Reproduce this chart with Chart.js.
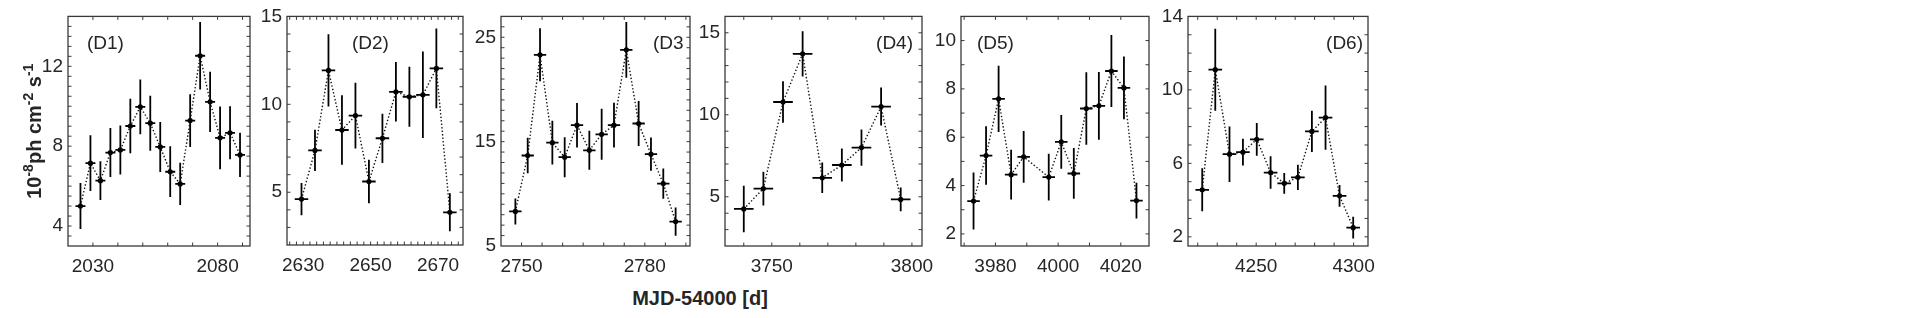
<!DOCTYPE html>
<html>
<head>
<meta charset="utf-8">
<script src="https://cdn.jsdelivr.net/npm/chart.js@4.4.1/dist/chart.umd.min.js"></script>
<style>
body { margin: 0; background: #fff; width: 1926px; height: 318px; position: relative; overflow: hidden; font-family: "Liberation Sans", Arial, sans-serif; }
.pan { position: absolute; top: 0; height: 280px; }
#xtitle { position: absolute; left: 700px; top: 287px; transform: translateX(-50%); font-weight: bold; font-size: 20px; line-height: 22px; color: #262626; white-space: nowrap; }
</style>
</head>
<body>
<div id="xtitle">MJD-54000 [d]</div>
<script>
// Dados de cada painel (MJD-54000, fluxo, erro)
const d1X = [2025, 2029, 2033, 2037, 2041, 2045, 2049, 2053, 2057, 2061, 2065, 2069, 2073, 2077, 2081, 2085, 2089];
const d1Y = [5.0, 7.15, 6.27, 7.68, 7.81, 9.01, 9.97, 9.15, 7.96, 6.72, 6.11, 9.28, 12.53, 10.22, 8.42, 8.67, 7.56];
const d1Err = [1.15, 1.4, 0.97, 1.23, 1.23, 1.37, 1.37, 1.38, 1.25, 1.27, 1.06, 1.32, 1.69, 1.51, 1.57, 1.33, 1.11];
const d1XTicks = [2030, 2080];
const d1YTicks = [4, 8, 12];

const d2X = [2629.5, 2633.5, 2637.5, 2641.5, 2645.5, 2649.5, 2653.5, 2657.5, 2661.5, 2665.5, 2669.5, 2673.5];
const d2Y = [4.61, 7.38, 11.93, 8.54, 9.36, 5.61, 8.07, 10.71, 10.43, 10.54, 12.04, 3.86];
const d2Err = [0.92, 1.17, 2.06, 1.97, 1.87, 1.24, 1.4, 1.69, 1.7, 2.46, 2.27, 1.08];
const d2XTicks = [2630, 2650, 2670];
const d2YTicks = [5, 10, 15];

const d3X = [2748.5, 2751.5, 2754.5, 2757.5, 2760.5, 2763.5, 2766.5, 2769.5, 2772.5, 2775.5, 2778.5, 2781.5, 2784.5, 2787.5];
const d3Y = [8.31, 13.67, 23.32, 14.9, 13.51, 16.58, 14.17, 15.7, 16.58, 23.8, 16.74, 13.8, 10.98, 7.34];
const d3Err = [1.25, 1.7, 2.54, 2.1, 1.92, 2.13, 1.87, 2.44, 2.14, 2.67, 2.16, 1.59, 1.45, 1.35];
const d3XTicks = [2750, 2780];
const d3YTicks = [5, 15, 25];

const d4X = [3740, 3747, 3754, 3761, 3768, 3775, 3782, 3789, 3796];
const d4Y = [4.26, 5.5, 10.78, 13.72, 6.16, 6.94, 8.0, 10.5, 4.84];
const d4Err = [1.42, 1.03, 1.27, 1.38, 0.93, 1.01, 1.1, 1.16, 0.72];
const d4XTicks = [3750, 3800];
const d4YTicks = [5, 10, 15];

const d5X = [3973, 3977, 3981, 3985, 3989, 3997, 4001, 4005, 4009, 4013, 4017, 4021, 4025];
const d5Y = [3.36, 5.24, 7.59, 4.45, 5.19, 4.35, 5.81, 4.5, 7.19, 7.3, 8.74, 8.04, 3.38];
const d5Err = [1.18, 1.21, 1.37, 1.03, 1.07, 0.97, 1.11, 1.05, 1.5, 1.4, 1.49, 1.3, 0.74];
const d5XTicks = [3980, 4000, 4020];
const d5YTicks = [2, 4, 6, 8, 10];

const d6X = [4222.3, 4229, 4236.3, 4243.2, 4250.3, 4257.4, 4264.4, 4271.4, 4278.6, 4285.6, 4292.8, 4299.8];
const d6Y = [4.56, 11.1, 6.5, 6.61, 7.31, 5.5, 4.91, 5.24, 7.74, 8.49, 4.23, 2.5];
const d6Err = [1.17, 2.23, 1.51, 0.73, 0.89, 0.88, 0.56, 0.69, 1.12, 1.75, 0.59, 0.59];
const d6XTicks = [4250, 4300];
const d6YTicks = [2, 6, 10, 14];

// meia largura do bin em dias
const binHalf = [2, 2, 1.5, 3.5, 2, 3.5];

const H = 280;
const paineis = [
    { label: '(D1)', x: d1X, y: d1Y, err: d1Err, xt: d1XTicks, yt: d1YTicks, box: [68, 14, 250, 246], xr: [2020, 2093, 10], yr: [3, 14.5, 0.5], align: 'left', dx: 19 },
    { label: '(D2)', x: d2X, y: d2Y, err: d2Err, xt: d2XTicks, yt: d2YTicks, box: [287, 13, 463, 245], xr: [2625.2, 2677.4, 2], yr: [2, 15, 1], align: 'left', dx: 65 },
    { label: '(D3', x: d3X, y: d3Y, err: d3Err, xt: d3XTicks, yt: d3YTicks, box: [501, 14, 690, 246], xr: [2745, 2791, 5], yr: [5, 27, 1], align: 'left', dx: 152 },
    { label: '(D4)', x: d4X, y: d4Y, err: d4Err, xt: d4XTicks, yt: d4YTicks, box: [725, 14, 922, 246], xr: [3733.3, 3803.6, 10], yr: [2, 16, 1], align: 'right', dx: 9 },
    { label: '(D5)', x: d5X, y: d5Y, err: d5Err, xt: d5XTicks, yt: d5YTicks, box: [961, 14, 1149, 246], xr: [3969, 4029, 10], yr: [1.5, 11, 1], align: 'left', dx: 16 },
    { label: '(D6)', x: d6X, y: d6Y, err: d6Err, xt: d6XTicks, yt: d6YTicks, box: [1188, 14, 1368, 246], xr: [4215, 4307.4, 10], yr: [1.5, 14, 1], align: 'right', dx: 5 }
];

const fonte = '"Liberation Sans", Arial, sans-serif';
const corTexto = '#262626';

// título do eixo y com expoentes: [texto, expoente?]
const tituloY = [['10', false], ['-8', true], ['ph cm', false], ['-2', true], [' s', false], ['-1', true]];

// Caixa com ticks para dentro, rótulo do painel e título do eixo y
const moldura = {
    id: 'moldura',
    afterDatasetsDraw(chart, args, opts) {
        const { ctx, chartArea: a, scales } = chart;
        const tl = 3.5;
        ctx.save();
        ctx.strokeStyle = '#3a3a3a';
        ctx.lineWidth = 1;
        ctx.beginPath();
        scales.x.ticks.forEach(t => {
            const p = scales.x.getPixelForValue(t.value);
            if (p <= a.left + 1 || p >= a.right - 1) return;
            ctx.moveTo(p, a.bottom); ctx.lineTo(p, a.bottom - tl);
            ctx.moveTo(p, a.top); ctx.lineTo(p, a.top + tl);
        });
        scales.y.ticks.forEach(t => {
            const p = scales.y.getPixelForValue(t.value);
            if (p <= a.top + 1 || p >= a.bottom - 1) return;
            ctx.moveTo(a.left, p); ctx.lineTo(a.left + tl, p);
            ctx.moveTo(a.right, p); ctx.lineTo(a.right - tl, p);
        });
        ctx.stroke();
        ctx.lineWidth = 1.3;
        ctx.strokeRect(a.left, a.top, a.right - a.left, a.bottom - a.top);
        ctx.fillStyle = corTexto;
        ctx.font = '19px ' + fonte;
        ctx.textBaseline = 'middle';
        ctx.textAlign = opts.align;
        const tx = opts.align === 'left' ? a.left + opts.dx : a.right - opts.dx;
        ctx.fillText(opts.text, tx, a.top + 27);

        if (opts.ytitle) {
            const big = 'bold 20px ' + fonte, small = 'bold 14px ' + fonte;
            let total = 0;
            tituloY.forEach(([s, sup]) => { ctx.font = sup ? small : big; total += ctx.measureText(s).width; });
            ctx.translate(41, (a.top + a.bottom) / 2 + total / 2);
            ctx.rotate(-Math.PI / 2);
            ctx.textAlign = 'left';
            ctx.textBaseline = 'alphabetic';
            let pos = 0;
            tituloY.forEach(([s, sup]) => {
                ctx.font = sup ? small : big;
                ctx.fillText(s, pos, sup ? -8 : 0);
                pos += ctx.measureText(s).width;
            });
        }
        ctx.restore();
    }
};

function barrasY(x, y, e) {
    const out = [];
    x.forEach((v, i) => out.push({ x: v, y: y[i] - e[i] }, { x: v, y: y[i] + e[i] }, { x: v, y: null }));
    return out;
}
function barrasX(x, y, h) {
    const out = [];
    x.forEach((v, i) => out.push({ x: v - h, y: y[i] }, { x: v + h, y: y[i] }, { x: v + h, y: null }));
    return out;
}
function rotulos(lista) {
    return v => lista.some(l => Math.abs(l - v) < 1e-6) ? String(v) : '';
}
// ticks em múltiplos do passo dentro do intervalo
function marcas([min, max, passo]) {
    return s => {
        const out = [];
        for (let k = Math.ceil(min / passo - 1e-9); k * passo <= max + 1e-9; k++) {
            out.push({ value: Math.round(k * passo * 1000) / 1000 });
        }
        s.ticks = out;
    };
}

paineis.forEach((p, i) => {
    const [l, t, r, b] = p.box;
    const yw = i === 0 ? l : 50;
    const rp = 25;
    const div = document.createElement('div');
    div.className = 'pan';
    div.style.left = (l - yw) + 'px';
    div.style.width = (r - l + yw + rp) + 'px';
    const cv = document.createElement('canvas');
    div.appendChild(cv);
    document.body.appendChild(div);

    new Chart(cv, {
        type: 'scatter',
        data: {
            datasets: [
                {
                    data: p.x.map((v, k) => ({ x: v, y: p.y[k] })),
                    showLine: true,
                    borderColor: '#111',
                    borderWidth: 1.4,
                    borderDash: [1.4, 2.1],
                    pointRadius: 2.6,
                    pointBackgroundColor: '#000',
                    pointBorderWidth: 0
                },
                {
                    data: barrasY(p.x, p.y, p.err),
                    showLine: true,
                    borderColor: '#000',
                    borderWidth: 1.8,
                    pointRadius: 0,
                    spanGaps: false
                },
                {
                    data: barrasX(p.x, p.y, binHalf[i]),
                    showLine: true,
                    borderColor: '#000',
                    borderWidth: 1.8,
                    pointRadius: 0,
                    spanGaps: false
                }
            ]
        },
        options: {
            responsive: true,
            maintainAspectRatio: false,
            animation: false,
            events: [],
            layout: { padding: { left: 0, right: rp, top: t, bottom: 0 } },
            plugins: {
                legend: { display: false },
                tooltip: { enabled: false },
                moldura: { text: p.label, align: p.align, dx: p.dx, ytitle: i === 0 }
            },
            scales: {
                x: {
                    type: 'linear',
                    min: p.xr[0], max: p.xr[1],
                    border: { display: false },
                    grid: { display: false, drawTicks: false },
                    ticks: { autoSkip: false, maxRotation: 0, padding: 9, color: corTexto, font: { family: fonte, size: 19 }, callback: rotulos(p.xt) },
                    afterBuildTicks: marcas(p.xr),
                    afterFit: s => { s.height = H - b; }
                },
                y: {
                    type: 'linear',
                    min: p.yr[0], max: p.yr[1],
                    border: { display: false },
                    grid: { display: false, drawTicks: false },
                    ticks: { autoSkip: false, padding: 5, color: corTexto, font: { family: fonte, size: 19 }, callback: rotulos(p.yt) },
                    afterBuildTicks: marcas(p.yr),
                    afterFit: s => { s.width = yw; }
                }
            }
        },
        plugins: [moldura]
    });
});
</script>
</body>
</html>
